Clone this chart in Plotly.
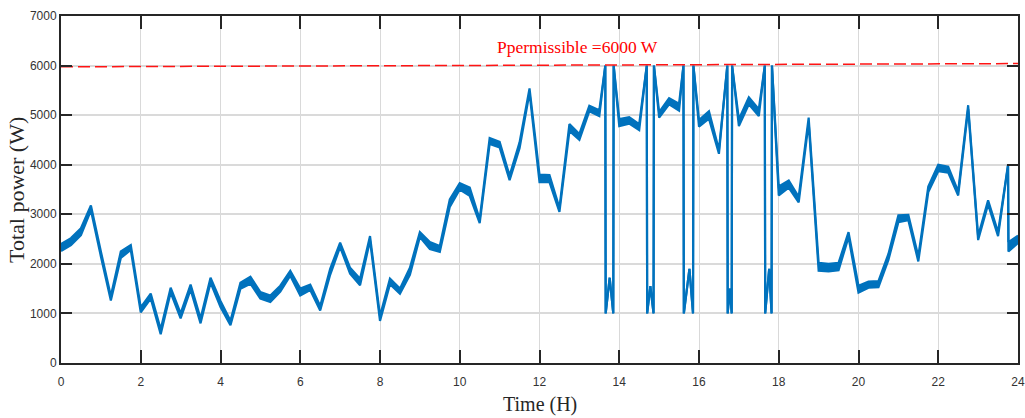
import plotly.graph_objects as go

# Time (h) of each vertex
time_h = [0.00, 0.25, 0.50, 0.75, 1.00, 1.25, 1.50, 1.75, 2.00, 2.25, 2.50, 2.75,
          3.00, 3.25, 3.50, 3.75, 4.00, 4.25, 4.50, 4.75, 5.00, 5.25, 5.50, 5.75,
          6.00, 6.25, 6.50, 6.75, 7.00, 7.25, 7.50, 7.75, 8.00, 8.25, 8.50, 8.75,
          9.00, 9.25, 9.50, 9.75, 10.00, 10.25, 10.50, 10.75, 11.00, 11.25, 11.50, 11.75,
          12.00, 12.25, 12.50, 12.75, 13.00, 13.25, 13.50,
          13.65, 13.66, 13.76, 13.85, 13.86,
          14.00, 14.25, 14.50,
          14.69, 14.70, 14.78, 14.86, 14.87,
          15.00, 15.25, 15.50,
          15.61, 15.62, 15.76, 15.85, 15.86,
          16.00, 16.25, 16.50,
          16.71, 16.72, 16.77, 16.82, 16.83,
          17.00, 17.25, 17.50,
          17.65, 17.66, 17.76, 17.82, 17.83,
          18.00, 18.25, 18.50, 18.75, 19.00, 19.25, 19.50, 19.75,
          20.00, 20.25, 20.50, 20.75, 21.00, 21.25, 21.50, 21.75,
          22.00, 22.25, 22.50, 22.75, 23.00, 23.25, 23.50, 23.75, 23.76, 24.00]

# Upper and lower envelope of total power (W)
power_upper = [2400, 2520, 2720, 3180, 2250, 1350, 2250, 2380, 1120, 1400, 680, 1520,
               1000, 1580, 900, 1720, 1250, 850, 1620, 1740, 1430, 1360, 1560, 1860,
               1500, 1580, 1150, 1900, 2430, 1920, 1700, 2560, 950, 1700, 1500, 1920,
               2640, 2440, 2360, 3300, 3630, 3540, 2900, 4540, 4460, 3780, 4450, 5540,
               3800, 3790, 3130, 4820, 4620, 5190, 5100,
               6000, 1000, 1720, 1000, 6000,
               4920, 4960, 4820,
               6000, 1000, 1550, 1000, 6000,
               5060, 5340, 5230,
               6000, 1000, 1900, 1000, 6000,
               4900, 5080, 4300,
               6000, 1000, 1500, 1000, 6000,
               4920, 5360, 5120,
               6000, 1000, 1900, 1000, 6000,
               3560, 3680, 3350, 4950, 2020, 2000, 2020, 2640,
               1560, 1640, 1650, 2200, 2980, 2990, 2150, 3560,
               4000, 3960, 3460, 5200, 2560, 3280, 2640, 4000, 2440, 2570]

power_lower = [2260, 2380, 2580, 3080, 2150, 1260, 2120, 2280, 1020, 1300, 580, 1420,
               900, 1480, 800, 1620, 1130, 760, 1500, 1600, 1300, 1230, 1440, 1760,
               1360, 1470, 1060, 1780, 2340, 1800, 1570, 2470, 850, 1590, 1400, 1780,
               2540, 2300, 2240, 3150, 3500, 3370, 2820, 4420, 4350, 3690, 4330, 5450,
               3650, 3650, 3050, 4680, 4500, 5080, 4980,
               6000, 1000, 1720, 1000, 6000,
               4780, 4830, 4700,
               6000, 1000, 1550, 1000, 6000,
               4950, 5220, 5090,
               6000, 1000, 1900, 1000, 6000,
               4770, 4930, 4220,
               6000, 1000, 1500, 1000, 6000,
               4780, 5220, 4980,
               6000, 1000, 1900, 1000, 6000,
               3380, 3540, 3240, 4850, 1860, 1850, 1870, 2540,
               1420, 1520, 1530, 2080, 2840, 2880, 2050, 3450,
               3870, 3840, 3380, 5120, 2480, 3200, 2560, 3980, 2250, 2420]

limit_x = [0, 24]
limit_y = [5975, 6040]
limit_label = "Ppermissible =6000 W"

x_ticks = list(range(0, 25, 2))
y_ticks = list(range(0, 7001, 1000))

BLUE = "#0072BD"

fig = go.Figure()
fig.add_trace(go.Scatter(x=time_h, y=power_upper, mode="lines",
                         line=dict(color=BLUE, width=2.2), showlegend=False))
fig.add_trace(go.Scatter(x=time_h, y=power_lower, mode="lines",
                         line=dict(color=BLUE, width=2.2), fill="tonexty",
                         fillcolor=BLUE, showlegend=False))
fig.add_trace(go.Scatter(x=limit_x, y=limit_y, mode="lines",
                         line=dict(color="rgb(255,20,20)", width=1.5, dash="12px,5px"),
                         showlegend=False))

axis_common = dict(showline=True, linecolor="#262626", linewidth=2, mirror="ticks",
                   ticks="inside", tickcolor="#262626", tickwidth=2, automargin=False,
                   tickfont=dict(family="Liberation Sans, Arial", size=12, color="#333333"),
                   zeroline=False)

fig.update_xaxes(range=[0, 24], tickvals=x_ticks, ticklen=13, ticklabelstandoff=7,
                 showgrid=True, gridcolor="#d9d9d9", gridwidth=1, **axis_common)
fig.update_yaxes(range=[0, 7000], tickvals=y_ticks, ticklen=11,
                 showgrid=True, gridcolor="#dadada", gridwidth=2, **axis_common)

fig.add_annotation(x=12.95, y=6370, xref="x", yref="y", text=limit_label, showarrow=False,
                   xanchor="center", yanchor="middle",
                   font=dict(family="Liberation Serif, Times New Roman", size=17.5, color="red"))
fig.add_annotation(x=0.5, y=-0.121, xref="paper", yref="paper", text="Time (H)",
                   showarrow=False, xanchor="center", yanchor="middle",
                   font=dict(family="Liberation Serif, Times New Roman", size=20, color="#262626"))
fig.add_annotation(x=-0.0465, y=0.5, xref="paper", yref="paper", text="Total power (W)",
                   textangle=-90, showarrow=False, xanchor="center", yanchor="middle",
                   font=dict(family="Liberation Serif, Times New Roman", size=22, color="#262626"))

fig.update_layout(width=1025, height=418, margin=dict(l=61, r=7, t=16, b=55),
                  plot_bgcolor="white", paper_bgcolor="white")

fig.write_html("out.html")
